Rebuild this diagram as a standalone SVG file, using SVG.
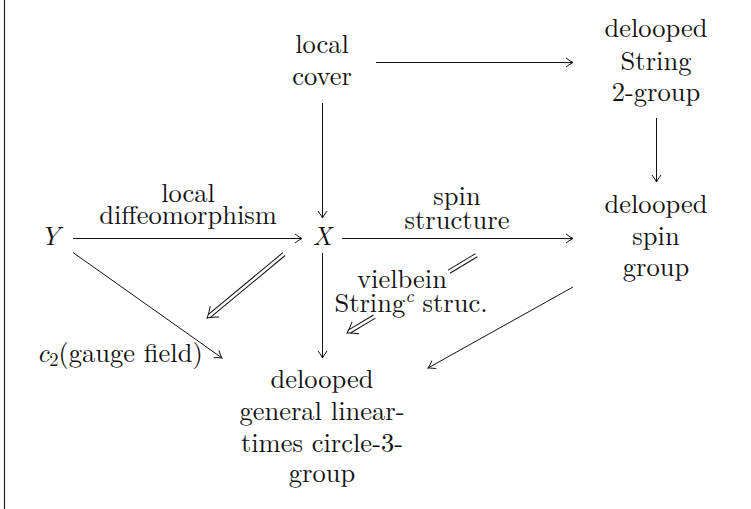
<svg xmlns="http://www.w3.org/2000/svg" width="751" height="509" viewBox="0 0 751 509">
<style>
text{font-size:26.5px;fill:#111;text-anchor:middle}
.it{font-style:italic}
.ln{stroke:#111;stroke-width:1;fill:none}
</style>
<defs>
<marker id="to" viewBox="-9 -7 11 14" refX="0" refY="0" markerWidth="11" markerHeight="14" markerUnits="userSpaceOnUse" orient="auto" overflow="visible">
<path d="M -7,-4.5 Q -2.5,-1 0,0 Q -2.5,1 -7,4.5" class="ln"/>
</marker>
</defs>
<rect width="751" height="509" fill="#fff"/>
<line x1="4.5" y1="0" x2="4.5" y2="509" stroke="#222" stroke-width="1.2"/>

<g font-family="Latin Modern Roman, Liberation Serif, serif">
<g id="n-local-cover"><text x="322" y="53">local</text><text x="322" y="85">cover</text></g>
<g id="n-string2"><text x="656" y="37">delooped</text><text x="656" y="70">String</text><text x="656" y="101">2-group</text></g>
<g id="n-spin"><text x="656" y="213">delooped</text><text x="656" y="245">spin</text><text x="656" y="276">group</text></g>
<g id="n-Y"><text class="it" x="50" y="245">Y</text></g>
<g id="n-X"><text class="it" x="322" y="245">X</text></g>
<g id="n-c2"><text x="37" y="362" style="text-anchor:start"><tspan class="it">c</tspan><tspan font-size="18.5" dy="4">2</tspan><tspan dy="-4">(gauge field)</tspan></text></g>
<g id="n-gl"><text x="322" y="388">delooped</text><text x="322" y="420">general linear-</text><text x="322" y="452">times circle-3-</text><text x="322" y="482">group</text></g>
</g>

<g id="connectors">
<line class="ln" x1="376" y1="62.5" x2="573" y2="62.5" marker-end="url(#to)"/>
<line class="ln" x1="322.5" y1="103" x2="322.5" y2="218" marker-end="url(#to)"/>
<line class="ln" x1="656.5" y1="118" x2="656.5" y2="182" marker-end="url(#to)"/>
<line class="ln" x1="73" y1="238.5" x2="302" y2="238.5" marker-end="url(#to)"/>
<line class="ln" x1="342" y1="238.5" x2="573" y2="238.5" marker-end="url(#to)"/>
<line class="ln" x1="322.5" y1="253" x2="322.5" y2="358" marker-end="url(#to)"/>
<line class="ln" x1="73" y1="252.5" x2="222" y2="358" marker-end="url(#to)"/>
<line class="ln" x1="573" y1="287" x2="428" y2="368" marker-end="url(#to)"/>
<g transform="translate(207,318) rotate(140.3)">
<line class="ln" x1="-100" y1="-1.8" x2="-3" y2="-1.8"/>
<line class="ln" x1="-100" y1="1.8" x2="-3" y2="1.8"/>
<path class="ln" d="M -10,-7 Q -4,-2 0,0 Q -4,2 -10,7"/>
</g>
<g transform="translate(347,333) rotate(149)">
<line class="ln" x1="-151" y1="-1.8" x2="-119" y2="-1.8"/>
<line class="ln" x1="-151" y1="1.8" x2="-119" y2="1.8"/>
<line class="ln" x1="-32" y1="-1.8" x2="-3" y2="-1.8"/>
<line class="ln" x1="-32" y1="1.8" x2="-3" y2="1.8"/>
<path class="ln" d="M -10,-7 Q -4,-2 0,0 Q -4,2 -10,7"/>
</g>
</g>
<g id="labels" font-family="Latin Modern Roman, Liberation Serif, serif">
<text x="188" y="202">local</text><text x="188" y="224">diffeomorphism</text>
<text x="457" y="205">spin</text><text x="457" y="229">structure</text>
<text x="402" y="288">vielbein</text>
<text x="411" y="312">String<tspan font-size="18.5" class="it" dy="-10">c</tspan><tspan dy="10"> struc.</tspan></text>
</g>
</svg>
